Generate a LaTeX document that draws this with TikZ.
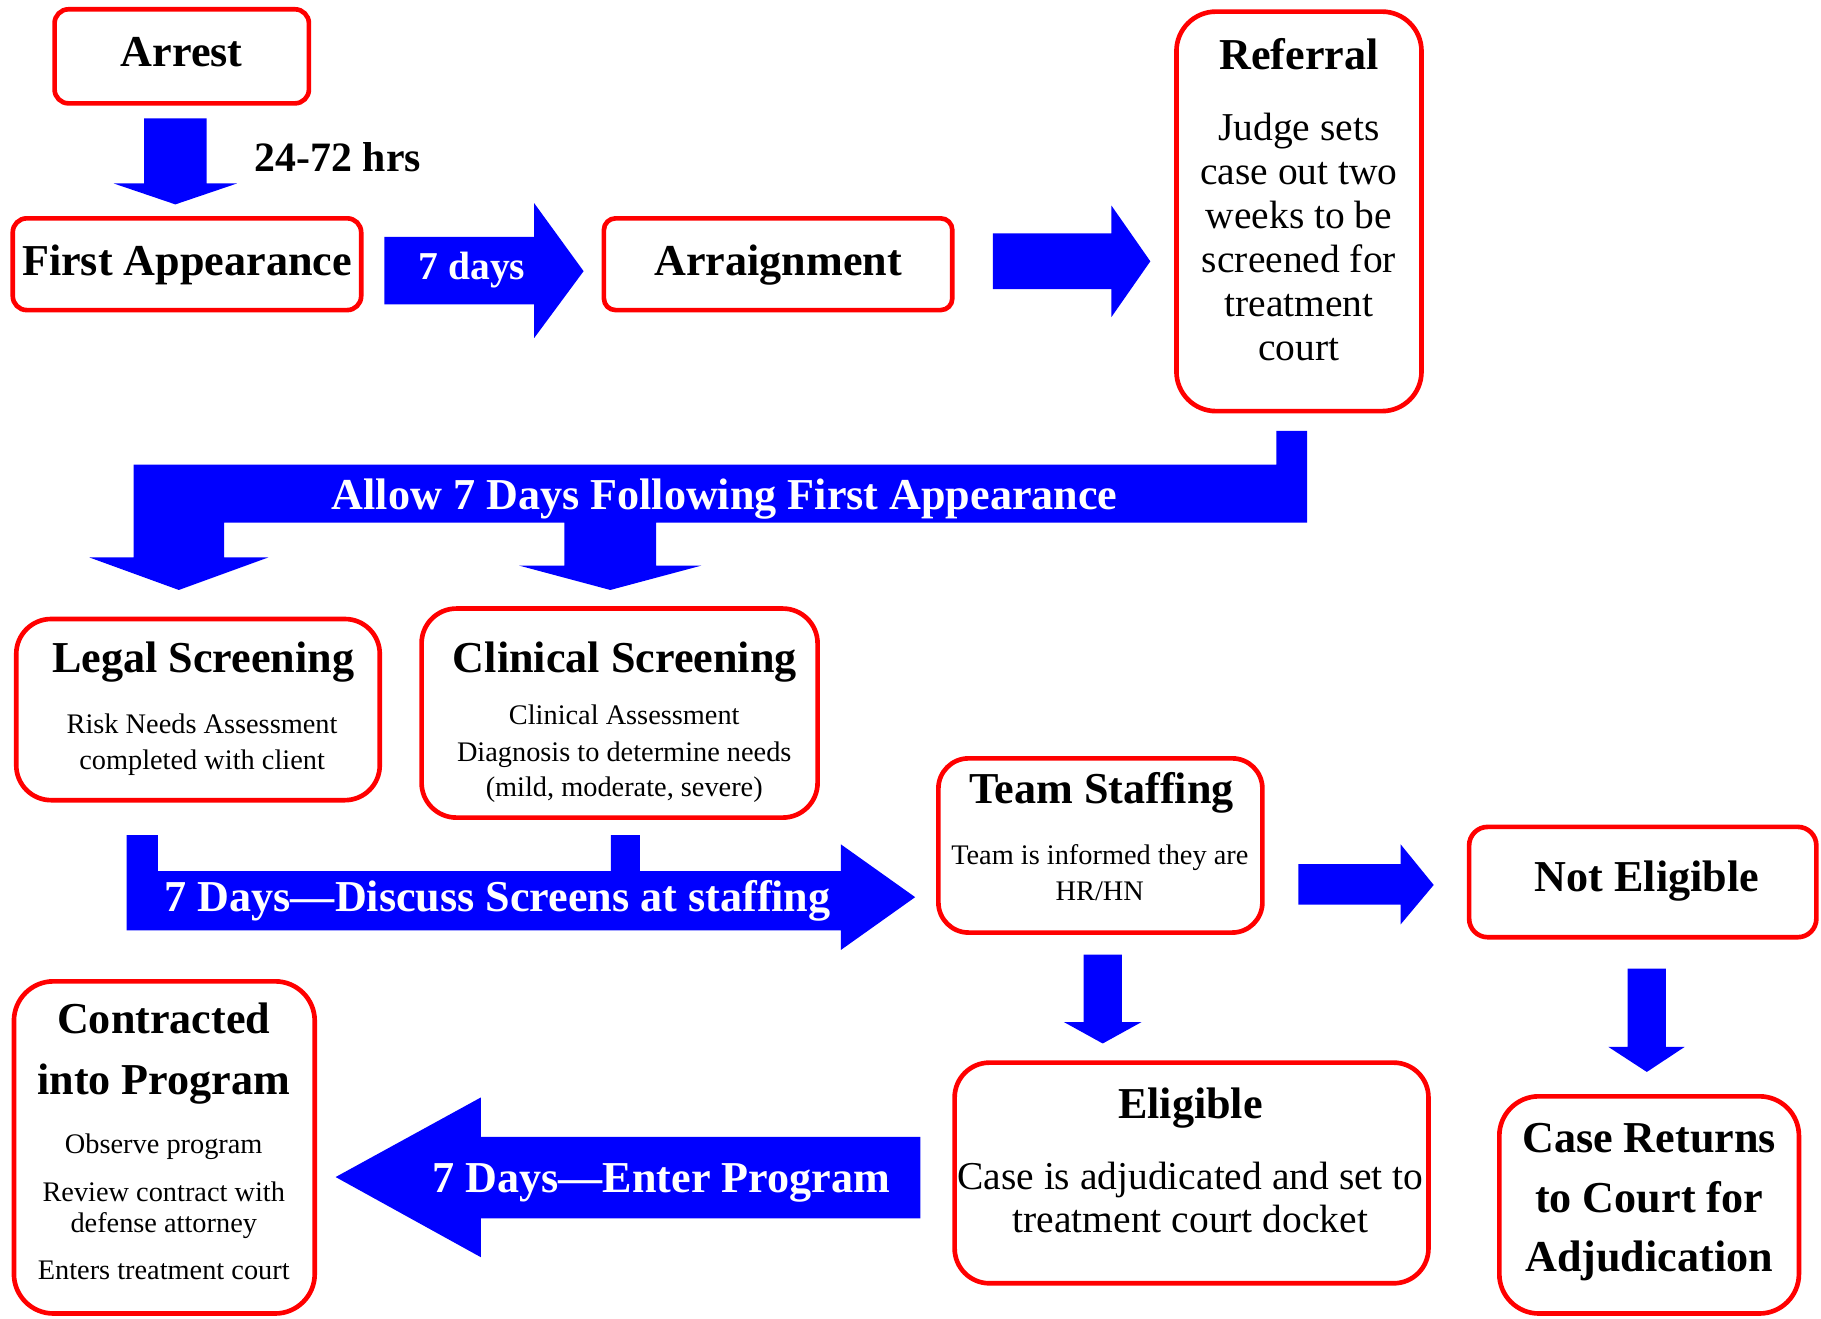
\documentclass[tikz,border=0pt]{standalone}
\usepackage{fontspec}
\setmainfont{Liberation Serif}
\definecolor{boxred}{RGB}{255,0,0}
\definecolor{arrblue}{RGB}{0,0,255}
\begin{document}
\begin{tikzpicture}[x=0.5pt,y=-0.5pt,
  box/.style={draw=boxred,line width=2pt,inner sep=0pt,fill=white},
  ttl/.style={anchor=base,inner sep=0pt,font=\fontsize{19}{22}\selectfont\bfseries},
  body/.style={anchor=base,inner sep=0pt,font=\fontsize{17}{19}\selectfont},
  small/.style={anchor=base,inner sep=0pt,font=\fontsize{12.2}{14}\selectfont},
  wlab/.style={anchor=base,inner sep=0pt,text=white,font=\fontsize{19}{22}\selectfont\bfseries},
  barrow/.style={fill=arrblue}]
\useasboundingbox (0,0) rectangle (1568,1135);

% ---------- block arrows ----------
% Arrest -> First Appearance
\fill[barrow] (124,102) -- (178,102) -- (178,158) -- (204,158) -- (151,176) -- (98,158) -- (124,158) -- cycle;
% 7 days
\fill[barrow] (331,204) -- (460,204) -- (460,175) -- (502.5,233.5) -- (460,291) -- (460,262) -- (331,262) -- cycle;
% Arraignment -> Referral
\fill[barrow] (855,201) -- (957,201) -- (957,177) -- (990.5,225) -- (957,273) -- (957,249) -- (855,249) -- cycle;
% Allow 7 days (bent, two heads)
\fill[barrow] (1099,371) -- (1125.5,371) -- (1125.5,450) -- (565,450) -- (565,487) -- (604,487) -- (525.5,508)
  -- (447,487) -- (486,487) -- (486,450) -- (193,450) -- (193,480) -- (231,480) -- (154,508) -- (77,480)
  -- (115,480) -- (115,400) -- (1099,400) -- cycle;
% 7 Days - Discuss screens
\fill[barrow] (109,719) -- (136,719) -- (136,750) -- (526,750) -- (526,719) -- (551,719) -- (551,750)
  -- (724,750) -- (724,727) -- (788,772.5) -- (724,818) -- (724,801) -- (109,801) -- cycle;
% Team -> Not Eligible
\fill[barrow] (1118,744) -- (1206,744) -- (1206,727) -- (1234.5,762) -- (1206,796) -- (1206,779) -- (1118,779) -- cycle;
% Team -> Eligible
\fill[barrow] (933,822) -- (966,822) -- (966,880) -- (983,880) -- (949.5,898.5) -- (916,880) -- (933,880) -- cycle;
% Not Eligible -> Case Returns
\fill[barrow] (1401.5,834) -- (1434.5,834) -- (1434.5,901.5) -- (1450.5,901.5) -- (1418,923) -- (1385,901.5) -- (1401.5,901.5) -- cycle;
% Enter program (leftward)
\fill[barrow] (792.5,979) -- (414,979) -- (414,945) -- (289,1013.5) -- (414,1082.5) -- (414,1049) -- (792.5,1049) -- cycle;

% ---------- boxes ----------
\node[box,rounded corners=6pt,minimum width=109.5pt,minimum height=40.5pt] (arrest) at (156.5,48.5) {};
\node[box,rounded corners=6pt,minimum width=150pt,minimum height=39.5pt] (first) at (161,227.5) {};
\node[box,rounded corners=5pt,minimum width=150pt,minimum height=39.5pt] (arraign) at (670,227.5) {};
\node[box,rounded corners=17pt,minimum width=105.5pt,minimum height=172pt] (referral) at (1118.5,182) {};
\node[box,rounded corners=15pt,minimum width=156.5pt,minimum height=78pt] (legal) at (170.5,611) {};
\node[box,rounded corners=15pt,minimum width=170.5pt,minimum height=90pt] (clinical) at (533.5,614) {};
\node[box,rounded corners=13pt,minimum width=139.5pt,minimum height=75pt] (team) at (947.5,728) {};
\node[box,rounded corners=8pt,minimum width=149.5pt,minimum height=47.5pt] (noteli) at (1414.5,759.5) {};
\node[box,rounded corners=15pt,minimum width=204pt,minimum height=95pt] (eligible) at (1026,1010) {};
\node[box,rounded corners=17pt,minimum width=129pt,minimum height=93.5pt] (caseret) at (1420,1037.5) {};
\node[box,rounded corners=17pt,minimum width=129.5pt,minimum height=143pt] (contracted) at (141.5,988) {};

% ---------- texts ----------
\node[ttl] (tarrest) at (156.5,57.5) {Arrest};
\node[ttl,font=\fontsize{18}{20}\selectfont\bfseries] (thrs) at (291,148) {24-72 hrs};
\node[ttl] (tfirst) at (161,237) {First Appearance};
\node[wlab,font=\fontsize{17}{19}\selectfont\bfseries] (tdays) at (406.5,241) {7 days};
\node[ttl] (tarraign) at (670,237) {Arraignment};

\node[ttl] (tref) at (1118.5,60) {Referral};
\node[body] (tref1) at (1118.5,121) {Judge sets};
\node[body] (tref2) at (1118.5,159) {case out two};
\node[body] (tref3) at (1118.5,197) {weeks to be};
\node[body] (tref4) at (1118.5,234.5) {screened for};
\node[body] (tref5) at (1118.5,272.5) {treatment};
\node[body] (tref6) at (1118.5,310) {court};

\node[wlab] (tallow) at (624,439) {Allow 7 Days Following First Appearance};

\node[ttl] (tlegal) at (175,579) {Legal Screening};
\node[small] (tlegal1) at (174,631.5) {Risk Needs Assessment};
\node[small] (tlegal2) at (174,663) {completed with client};

\node[ttl] (tclin) at (538,579) {Clinical Screening};
\node[small] (tclin1) at (537.5,623.5) {Clinical Assessment};
\node[small] (tclin2) at (537.5,655.5) {Diagnosis to determine needs};
\node[small] (tclin3) at (537.5,686) {(mild, moderate, severe)};

\node[wlab] (tdisc) at (428.5,785) {7 Days—Discuss Screens at staffing};

\node[ttl] (tteam) at (948.5,692) {Team Staffing};
\node[small] (tteam1) at (947,744) {Team is informed they are};
\node[small] (tteam2) at (947,775.5) {HR/HN};

\node[ttl] (tnot) at (1418,767.5) {Not Eligible};

\node[ttl] (telig) at (1025,963) {Eligible};
\node[body] (telig1) at (1025,1024) {Case is adjudicated and set to};
\node[body] (telig2) at (1025,1061) {treatment court docket};

\node[ttl] (tcase1) at (1420,992) {Case Returns};
\node[ttl] (tcase2) at (1420,1044) {to Court for};
\node[ttl] (tcase3) at (1420,1094.5) {Adjudication};

\node[wlab] (tenter) at (569.5,1027) {7 Days—Enter Program};

\node[ttl] (tcon1) at (141,890) {Contracted};
\node[ttl] (tcon2) at (141,942) {into Program};
\node[small] (tcon3) at (141,993.5) {Observe program};
\node[small] (tcon4) at (141,1034.5) {Review contract with};
\node[small] (tcon5) at (141,1061) {defense attorney};
\node[small] (tcon6) at (141,1102) {Enters treatment court};
\end{tikzpicture}
\end{document}
